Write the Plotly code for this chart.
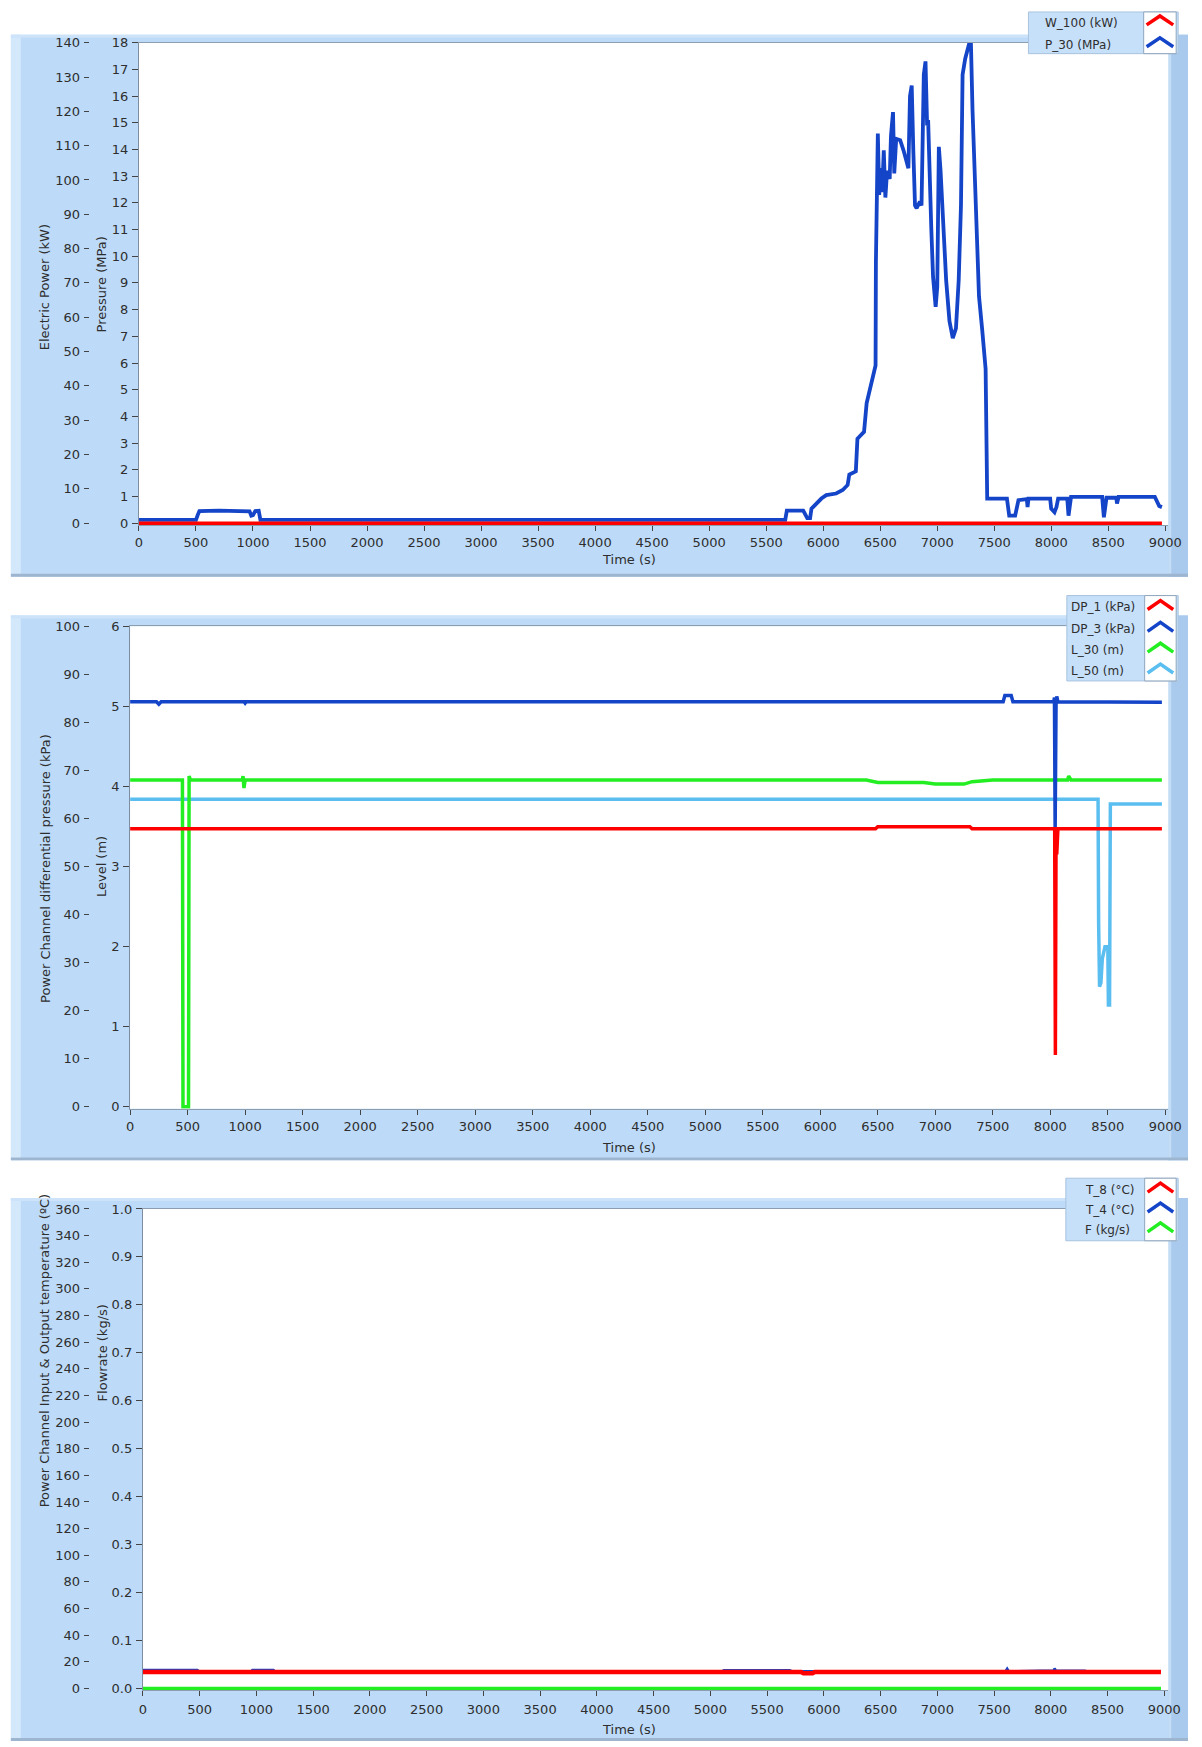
import plotly.graph_objects as go

W, H = 1202, 1747


def fx(x):
    return x / W


def fy(y):
    return 1 - y / H


# ---------------- data (time in s, value) ----------------
W_100_kW = [(0, 0.0), (8970, 0.0)]

P_30_MPa = [
    (0, 0.12), (500, 0.12), (515, 0.30), (530, 0.45), (700, 0.47), (900, 0.45),
    (970, 0.44), (985, 0.28), (1000, 0.30), (1020, 0.45), (1050, 0.46), (1065, 0.12),
    (5667, 0.12), (5681, 0.47), (5825, 0.47), (5860, 0.19), (5885, 0.19), (5897, 0.54),
    (5984, 0.92), (6027, 1.05), (6113, 1.11), (6171, 1.24), (6214, 1.43), (6229, 1.82),
    (6286, 1.94), (6300, 3.16), (6358, 3.42), (6381, 4.50), (6416, 5.14), (6445, 5.78),
    (6459, 5.91), (6462, 9.75), (6468, 12.18), (6479, 14.60), (6491, 12.30), (6502, 13.30),
    (6517, 12.40), (6531, 13.97), (6545, 12.20), (6560, 13.20), (6583, 12.90), (6594, 14.50),
    (6612, 15.40), (6623, 13.10), (6640, 14.40), (6675, 14.35), (6704, 13.97), (6747, 13.30),
    (6761, 16.00), (6776, 16.40), (6790, 13.97), (6805, 11.90), (6819, 11.80), (6848, 12.05),
    (6862, 11.90), (6871, 15.10), (6882, 16.80), (6897, 17.30), (6911, 14.90), (6920, 15.10),
    (6934, 12.20), (6948, 11.00), (6963, 9.24), (6986, 8.10), (7000, 8.85), (7014, 14.10),
    (7029, 13.20), (7049, 11.70), (7078, 9.10), (7107, 7.57), (7136, 6.93), (7164, 7.30),
    (7188, 9.10), (7208, 11.90), (7222, 16.80), (7245, 17.40), (7265, 17.80), (7294, 18.20),
    (7309, 15.50), (7337, 11.70), (7366, 8.50), (7395, 7.20), (7424, 5.78), (7438, 0.92),
    (7611, 0.92), (7631, 0.28), (7683, 0.28), (7712, 0.86), (7785, 0.90), (7792, 0.60),
    (7800, 0.92), (7990, 0.92), (7999, 0.54), (8028, 0.41), (8045, 0.60), (8060, 0.92),
    (8140, 0.92), (8151, 0.28), (8173, 0.98), (8446, 0.98), (8461, 0.22), (8484, 0.95),
    (8570, 0.95), (8576, 0.73), (8590, 0.98), (8908, 0.98), (8946, 0.64), (8970, 0.60),
]

DP_1_kPa = [(0, 57.85), (6480, 57.85), (6500, 58.3), (7300, 58.3), (7320, 57.85),
            (8038, 57.85), (8044, 10.8), (8050, 57.9), (8056, 52.5), (8066, 57.85),
            (8970, 57.85)]

DP_3_kPa = [(0, 84.3), (230, 84.3), (250, 83.8), (270, 84.3), (990, 84.3), (1000, 84.0),
            (1010, 84.3), (7590, 84.3), (7605, 85.6), (7660, 85.6), (7675, 84.3),
            (8030, 84.3), (8036, 85.2), (8042, 57.5), (8050, 84.3), (8056, 85.4),
            (8066, 84.3), (8970, 84.2)]

L_30_m = [(0, 4.08), (455, 4.08), (460, 0.0), (508, 0.0), (513, 4.13), (525, 4.08),
          (975, 4.08), (982, 4.13), (990, 3.98), (1000, 4.08), (6400, 4.08), (6500, 4.05),
          (6900, 4.05), (7000, 4.03), (7250, 4.03), (7320, 4.06), (7500, 4.08),
          (8150, 4.08), (8160, 4.13), (8180, 4.08), (8970, 4.08)]

L_50_m = [(0, 3.84), (8415, 3.84), (8420, 2.3), (8428, 1.5), (8440, 1.55), (8452, 1.85),
          (8475, 2.0), (8500, 2.0), (8505, 1.27), (8515, 1.27), (8522, 3.78), (8970, 3.78)]

T_8_C = [(0, 12.3), (450, 12.3), (520, 11.6), (940, 11.6), (1000, 12.3), (5800, 12.3),
         (5820, 11.3), (5900, 11.3), (5920, 12.3), (8970, 12.3)]

T_4_C = [(0, 13.8), (480, 13.8), (500, 12.5), (950, 12.5), (965, 13.9), (1150, 13.9),
         (1165, 12.8), (5100, 12.8), (5120, 13.7), (5700, 13.7), (5720, 12.8), (7600, 12.8),
         (7615, 14.8), (7630, 12.8), (7900, 13.3), (8025, 13.4), (8033, 15.0), (8045, 13.4),
         (8300, 13.3), (8320, 12.8), (8970, 12.8)]

F_kgs = [(0, 0.0), (8970, 0.0)]

TIME_DTICK = 500

RED = '#FF0000'
BLUE = '#1444C8'
GREEN = '#22EE22'
LBLUE = '#5BBEF0'

# ---------------- geometry (pixels) ----------------
PANELS = [
    # frame top, frame bottom, plot left, plot top, pixel of value 0, x of 9000 tick
    dict(ft=28, fb=574, pl=137, pt=36, pb=520, x9=1179, ts=0),
    dict(ft=613, fb=1162, pl=128, pt=624, pb=1108, x9=1179, ts=1),
    dict(ft=1200, fb=1747, pl=141, pt=1211, pb=1694, x9=1178, ts=2),
]
PR = 1182  # plot right edge
PAD = 2    # white area below the zero line, px

fig = go.Figure()


def add(series, name, color, width, xa, ya):
    fig.add_trace(go.Scatter(
        x=[p[0] for p in series], y=[p[1] for p in series], mode='lines', name=name,
        line=dict(color=color, width=width), xaxis=xa, yaxis=ya,
        showlegend=False, hoverinfo='skip'))


add(P_30_MPa, 'P_30 (MPa)', BLUE, 3.8, 'x', 'y')
add(W_100_kW, 'W_100 (kW)', RED, 3.5, 'x', 'y2')
add(L_50_m, 'L_50 (m)', LBLUE, 3.5, 'x2', 'y3')
add(L_30_m, 'L_30 (m)', GREEN, 3.5, 'x2', 'y3')
add(DP_3_kPa, 'DP_3 (kPa)', BLUE, 3.5, 'x2', 'y4')
add(DP_1_kPa, 'DP_1 (kPa)', RED, 3.5, 'x2', 'y4')
add(F_kgs, 'F (kg/s)', GREEN, 3.5, 'x3', 'y5')
add(T_4_C, 'T_4 (°C)', BLUE, 2.5, 'x3', 'y6')
add(T_8_C, 'T_8 (°C)', RED, 4.5, 'x3', 'y6')

FONT = 'DejaVu Sans'
TXT = '#2E2E2E'
tickfont = dict(family=FONT, size=13, color=TXT)

layout = dict(
    width=W, height=H, margin=dict(l=0, r=0, t=0, b=0),
    paper_bgcolor='white', plot_bgcolor='white', showlegend=False,
)

inner = [dict(top=18, dtick=1), dict(top=6, dtick=1), dict(top=1, dtick=0.1, tickformat='.1f')]
outer = [dict(top=140, dtick=10), dict(top=100, dtick=10), dict(top=360, dtick=20)]

for i, p in enumerate(PANELS):
    n = i + 1
    xname = 'xaxis' if n == 1 else f'xaxis{n}'
    xref = 'x' if n == 1 else f'x{n}'
    yin = 2 * i + 1
    yout = 2 * i + 2
    yin_name = 'yaxis' if yin == 1 else f'yaxis{yin}'
    yin_ref = 'y' if yin == 1 else f'y{yin}'
    yout_name = f'yaxis{yout}'
    xmax = 9000 * (PR - p['pl']) / (p['x9'] - p['pl'])
    span = p['pb'] - p['pt']
    layout[xname] = dict(
        domain=[fx(p['pl']), fx(PR)], range=[0, xmax], anchor=yin_ref,
        dtick=TIME_DTICK, tick0=0, ticks='outside', ticklen=5, tickcolor='#444',
        tickfont=tickfont, showgrid=False, zeroline=False, showline=True,
        linecolor='#8C9DB0', linewidth=1, mirror=True, fixedrange=True,
        ticklabelstandoff=p['ts'])
    ci = dict(inner[i])
    top = ci.pop('top')
    layout[yin_name] = dict(
        domain=[fy(p['pb'] + PAD), fy(p['pt'])], anchor=xref,
        range=[-PAD / span * top, top], tick0=0, ticks='outside', ticklen=6,
        tickcolor='#444', tickfont=tickfont, showgrid=False, zeroline=False,
        showline=True, linecolor='#7E8EA0', linewidth=1, fixedrange=True,
        ticklabelstandoff=1, **ci)
    co = dict(outer[i])
    top = co.pop('top')
    layout[yout_name] = dict(
        overlaying=yin_ref, anchor='free', position=fx(86), side='left',
        range=[-PAD / span * top, top], tick0=0, ticks='outside',
        ticklen=5, tickcolor='#444', tickfont=tickfont, showgrid=False, zeroline=False,
        showline=False, fixedrange=True, ticklabelstandoff=1, **co)

fig.update_layout(**layout)

# ---------------- frames ----------------
shapes = []


def rect(x0, y0, x1, y1, fill, line=None, layer='below', lw=1):
    shapes.append(dict(type='rect', xref='paper', yref='paper', x0=fx(x0), x1=fx(x1),
                       y0=fy(y1), y1=fy(y0), fillcolor=fill, layer=layer,
                       line=dict(width=lw if line else 0, color=line or fill)))


for p in PANELS:
    rect(7, p['ft'], W, p['fb'], '#BDDBF8')
    rect(7, p['ft'], 17, p['fb'], '#D4E8FB')
    rect(7, p['ft'], W, p['ft'] + 3, '#CCE3FA')
    rect(PR, p['ft'], W, p['fb'], '#A9CAEC')
    rect(PR, p['ft'], PR + 3, p['fb'], '#C3DDF6')
    rect(7, p['fb'] - 3, W, p['fb'], '#9DB5CE')
    rect(p['pl'], p['pt'], PR, p['pb'] + PAD, 'white')

# ---------------- legends ----------------
LEGENDS = [
    dict(box=(1040, 5, 1192, 47), sym=(1157, 1190), tx=1055,
         items=[('W_100 (kW)', RED, 16), ('P_30 (MPa)', BLUE, 38)]),
    dict(box=(1079, 593, 1192, 679), sym=(1158, 1190), tx=1081,
         items=[('DP_1 (kPa)', RED, 605), ('DP_3 (kPa)', BLUE, 627),
                ('L_30 (m)', GREEN, 648), ('L_50 (m)', LBLUE, 669)]),
    dict(box=(1078, 1180, 1192, 1243), sym=(1158, 1190), tx=1095,
         items=[('T_8 (°C)', RED, 1192), ('T_4 (°C)', BLUE, 1212),
                ('F (kg/s)', GREEN, 1232)]),
]

annotations = []
for lg in LEGENDS:
    x0, y0, x1, y1 = lg['box']
    rect(x0, y0, x1, y1, '#C6E0FA', '#A9C3DE', layer='above')
    rect(lg['sym'][0], y0, lg['sym'][1], y1, 'white', '#8FA5BC', layer='above')
    sx0, sx1 = lg['sym'][0] + 3, lg['sym'][1] - 3
    sxc = (sx0 + sx1) / 2
    for text, color, yc in lg['items']:
        annotations.append(dict(text=text, x=fx(lg['tx']), y=fy(yc), xref='paper',
                                yref='paper', xanchor='left', yanchor='middle',
                                showarrow=False, font=dict(family=FONT, size=12, color=TXT)))
        path = (f"M {fx(sx0)},{fy(yc + 2)} L {fx(sxc)},{fy(yc - 7)} "
                f"L {fx(sx1)},{fy(yc + 2)}")
        shapes.append(dict(type='path', xref='paper', yref='paper', path=path,
                           layer='above', line=dict(color=color, width=3.5)))

# ---------------- axis titles ----------------
TITLES = [
    ('Electric Power (kW)', 42, 282), ('Pressure (MPa)', 99, 280),
    ('Power Channel differential pressure (kPa)', 42, 868), ('Level (m)', 99, 866),
    ('Power Channel Input & Output temperature (ºC)', 42, 1353),
    ('Flowrate (kg/s)', 100, 1356),
]
for text, x, y in TITLES:
    annotations.append(dict(text=text, x=fx(x), y=fy(y), xref='paper', yref='paper',
                            xanchor='center', yanchor='middle', textangle=-90,
                            showarrow=False, font=dict(family=FONT, size=13, color=TXT)))

for y in (557, 1149, 1735):
    annotations.append(dict(text='Time (s)', x=fx(635), y=fy(y), xref='paper',
                            yref='paper', xanchor='center', yanchor='middle',
                            showarrow=False, font=dict(family=FONT, size=13, color=TXT)))

fig.update_layout(shapes=shapes, annotations=annotations)

fig.write_html('out.html')
